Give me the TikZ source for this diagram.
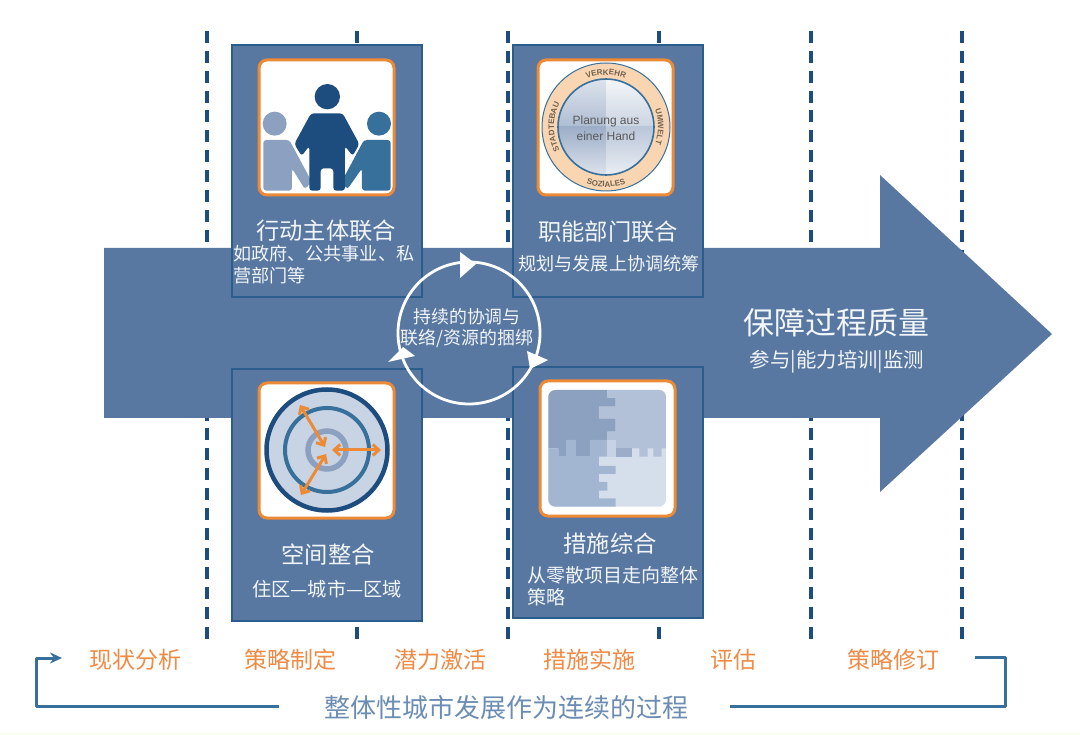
\documentclass[tikz,border=0pt]{standalone}
\usepackage{fontspec}
\setmainfont{Noto Sans CJK SC}
\newfontfamily\latinfont{Liberation Sans}
\usetikzlibrary{arrows.meta,decorations.text,shadings}
\definecolor{mainblue}{HTML}{5878A1}
\definecolor{edgeblue}{HTML}{2A5C8C}
\definecolor{darkblue}{HTML}{1D4C7E}
\definecolor{midblue}{HTML}{38709C}
\definecolor{paleblue}{HTML}{8CA0BF}
\definecolor{iconorange}{HTML}{EC8A35}
\definecolor{labelorange}{HTML}{F08A45}
\definecolor{titleblue}{HTML}{6C8DB3}
\definecolor{peach}{HTML}{F9D5B2}
\definecolor{textwhite}{HTML}{F2F5F9}
\definecolor{targetfill}{HTML}{C8D3E3}
\definecolor{pieceTL}{HTML}{8CA0BF}
\definecolor{pieceTR}{HTML}{B3C1D8}
\definecolor{pieceBL}{HTML}{A3B6D1}
\definecolor{pieceBR}{HTML}{D5DFEC}
\definecolor{ringword}{HTML}{6F6250}
\tikzset{
  panel/.style={fill=mainblue,draw=edgeblue,line width=2pt},
  iconframe/.style={fill=white,draw=iconorange,line width=3pt,rounded corners=8pt},
  guide/.style={draw=darkblue,line width=3.6pt,dash pattern=on 12pt off 7.87pt},
  link/.style={draw=midblue,line width=3pt,line join=round},
  ttl/.style={text=textwhite,font=\fontsize{23.3}{25}\selectfont,inner sep=0pt},
  sub/.style={text=textwhite,font=\fontsize{18.1}{22}\selectfont,inner sep=0pt},
  step label/.style={text=labelorange,font=\fontsize{23}{25}\selectfont,inner sep=0pt},
  ringtext/.style={text=textwhite,font=\fontsize{17.9}{20.5}\selectfont,inner sep=0pt,align=center},
  ringhead/.style={fill=white,draw=none},
  ringword along/.style={postaction={decorate,decoration={text along path,text align=center,text={|\latinfont\bfseries\fontsize{8}{9}\selectfont\color{ringword}|#1}}}}
}
\begin{document}
\begin{tikzpicture}[x=1pt,y=-1pt]
\useasboundingbox (0,0) rectangle (1080,735);
\fill[white] (0,0) rectangle (1080,735);
\fill[green!30!yellow!8!white] (0,733) rectangle (1080,735);
% guides
\foreach \gx in {207,357,508,659,811,962}
  \draw[guide] (\gx,31) -- (\gx,639);
% main arrow
\fill[mainblue] (104,248) -- (880,248) -- (880,175) -- (1052,334) -- (880,492) -- (880,418) -- (104,418) -- cycle;
% panels
\node[panel,minimum width=190pt,minimum height=252pt,inner sep=0pt] (p1) at (327,171) {};
\node[panel,minimum width=190pt,minimum height=252pt,inner sep=0pt] (p2) at (608,171) {};
\node[panel,minimum width=190pt,minimum height=252pt,inner sep=0pt] (p3) at (327,495) {};
\node[panel,minimum width=190pt,minimum height=251pt,inner sep=0pt] (p4) at (608,492.5) {};
% icon frames
\draw[iconframe] (259,60) rectangle (394,195);
\draw[iconframe] (538,60) rectangle (673,195);
\draw[iconframe] (259,383) rectangle (394,518);
\draw[iconframe] (540,381) rectangle (675,516);
% people icon (coordinates of 3x crop)
\begin{scope}[shift={(230,40)},x=0.3333pt,y=-0.3333pt]
 \fill[paleblue] (134,251) circle (36);
 \fill[paleblue,rounded corners=3pt] (100,300) -- (178,300) -- (245,425) -- (225,448) -- (186,385) -- (186,452) -- (100,452) -- cycle;
 \fill[midblue] (447,251) circle (36);
 \fill[midblue,rounded corners=3pt] (482,300) -- (402,300) -- (335,425) -- (352,448) -- (396,385) -- (396,452) -- (482,452) -- cycle;
 \fill[darkblue] (292,170) circle (38);
 \fill[darkblue,rounded corners=3pt] (243,220) -- (338,220) -- (388,312) -- (368,348) -- (345,318) -- (345,452) -- (310,452) -- (310,385) -- (272,385) -- (272,452) -- (238,452) -- (238,318) -- (215,348) -- (193,312) -- cycle;
\end{scope}
% ring icon
\fill[peach,draw=midblue,line width=1pt] (606,127) circle (64);
\begin{scope}
 \clip (606,127) circle (48);
 \shade[top color=white!70!paleblue,bottom color=white!30!paleblue] (606,79) rectangle (558,127);
 \shade[top color=white!90!paleblue,bottom color=white!55!paleblue] (606,79) rectangle (654,127);
 \shade[top color=white!15!paleblue,bottom color=white!70!paleblue] (558,127) rectangle (606,175);
 \shade[top color=white!40!paleblue,bottom color=white!82!paleblue] (606,127) rectangle (654,175);
\end{scope}
\draw[midblue,line width=1.6pt] (606,127) circle (48);
\node[text=black!65,font=\latinfont\fontsize{12}{16}\selectfont,align=center,inner sep=0pt] (hand) at (606,128) {Planung aus\\einer Hand};
\path[ringword along=VERKEHR] (606,127) ++(-140:52) arc[start angle=-140,end angle=-40,radius=52];
\path[ringword along=SOZIALES] (606,127) ++(140:60) arc[start angle=140,end angle=40,radius=60];
\path[ringword along=STADTEBAU] (606,127) ++(120:52) arc[start angle=120,end angle=240,radius=52];
\path[ringword along=UMWELT] (606,127) ++(-50:52) arc[start angle=-50,end angle=50,radius=52];
% target icon
\fill[targetfill,draw=darkblue,line width=4.5pt] (327,450) circle (60.5);
\draw[midblue,line width=4pt] (327,450) circle (42);
\draw[paleblue,line width=5.5pt] (327,450) circle (19);
\begin{scope}[iconorange,line width=3pt,{Straight Barb[length=6pt,width=11pt]}-{Straight Barb[length=6pt,width=11pt]}]
 \draw (325,447) -- (300,405);
 \draw (332,450) -- (381,450);
 \draw (326,454) -- (301,495);
\end{scope}
% puzzle icon (coordinates of 3x crop)
\begin{scope}[shift={(500,360)},x=0.3333pt,y=-0.3333pt]
 \begin{scope}
  \clip[rounded corners=7pt] (145,90) rectangle (498,440);
  \fill[pieceBR] (145,90) rectangle (498,440);
  \fill[pieceTL] (145,90) -- (322,90) -- (322,113) -- (347,113) -- (347,140) -- (297,140) -- (297,175) -- (347,175) -- (347,215) -- (322,215) -- (322,240) -- (297,240) -- (270,240) -- (270,290) -- (228,290) -- (228,240) -- (200,240) -- (200,290) -- (175,290) -- (175,265) -- (145,265) -- cycle;
  \fill[pieceTR] (322,90) -- (498,90) -- (498,265) -- (485,265) -- (485,290) -- (460,290) -- (460,265) -- (443,265) -- (443,290) -- (418,290) -- (418,265) -- (395,265) -- (395,290) -- (347,290) -- (347,240) -- (322,240) -- (322,215) -- (347,215) -- (347,175) -- (297,175) -- (297,140) -- (347,140) -- (347,113) -- (322,113) -- cycle;
  \fill[pieceBL] (145,265) -- (175,265) -- (175,290) -- (200,290) -- (200,240) -- (228,240) -- (228,290) -- (270,290) -- (270,240) -- (322,240) -- (322,290) -- (297,290) -- (297,318) -- (347,318) -- (347,342) -- (297,342) -- (297,366) -- (322,366) -- (322,392) -- (297,392) -- (297,415) -- (347,415) -- (347,440) -- (145,440) -- cycle;
  \fill[pieceTL!60!pieceTR] (347,265) rectangle (395,290);
  \fill[pieceTR!40!pieceBR] (322,240) rectangle (347,290);
 \end{scope}
\end{scope}
% centre loop
\draw[white,line width=2.8pt] (469,333) circle (71);
\fill[ringhead] (460,252) -- (476,264) -- (460,278) -- cycle;
\fill[ringhead] (527,351) -- (548,360) -- (530,369) -- cycle;
\fill[ringhead] (388,362) -- (403,347) -- (415,356) -- cycle;
\node[ringtext] (loop) at (467,328) {持续的协调与\\联络/资源的捆绑};
% texts on panels
\node[ttl] (t1) at (326,231) {行动主体联合};
\node[sub,align=left,anchor=north west] (s1) at (233,245) {如政府、公共事业、私\\营部门等};
\node[ttl] (t2) at (608,232) {职能部门联合};
\node[sub] (s2) at (609,263.5) {规划与发展上协调统筹};
\node[ttl] (t3) at (328,555) {空间整合};
\node[text=textwhite,font=\fontsize{19.2}{22}\selectfont,inner sep=0pt] (s3) at (327,589) {住区—城市—区域};
\node[ttl] (t4) at (610,544) {措施综合};
\node[text=textwhite,font=\fontsize{19}{22}\selectfont,inner sep=0pt,align=left,anchor=north west] (s4) at (527,566) {从零散项目走向整体\\策略};
% arrow labels
\node[text=textwhite,font=\fontsize{31}{33}\selectfont,inner sep=0pt] (q1) at (836,323) {保障过程质量};
\node[text=textwhite,font=\fontsize{20.4}{22}\selectfont,inner sep=0pt] (q2) at (837,362) {参与|能力培训|监测};
% bottom row
\node[step label] (a1) at (135,660) {现状分析};
\node[step label] (a2) at (290,660) {策略制定};
\node[step label] (a3) at (440,660) {潜力激活};
\node[step label] (a4) at (589,660) {措施实施};
\node[step label] (a5) at (733,660) {评估};
\node[step label] (a6) at (893,660) {策略修订};
\node[text=titleblue,font=\fontsize{26}{28}\selectfont,inner sep=0pt] (whole) at (506,708) {整体性城市发展作为连续的过程};
\coordinate (lend) at (62,658);
\coordinate (rend) at (975,657);
\coordinate (lstart) at (279,706);
\coordinate (rstart) at (730,706);
\draw[link,-{Stealth[length=12pt,width=11pt,inset=4pt]}] (lstart) -- (36,706) -- (36,658) -- (lend);
\draw[link] (rstart) -- (1005,706) -- (1005,657) -- (rend);
\end{tikzpicture}
\end{document}
